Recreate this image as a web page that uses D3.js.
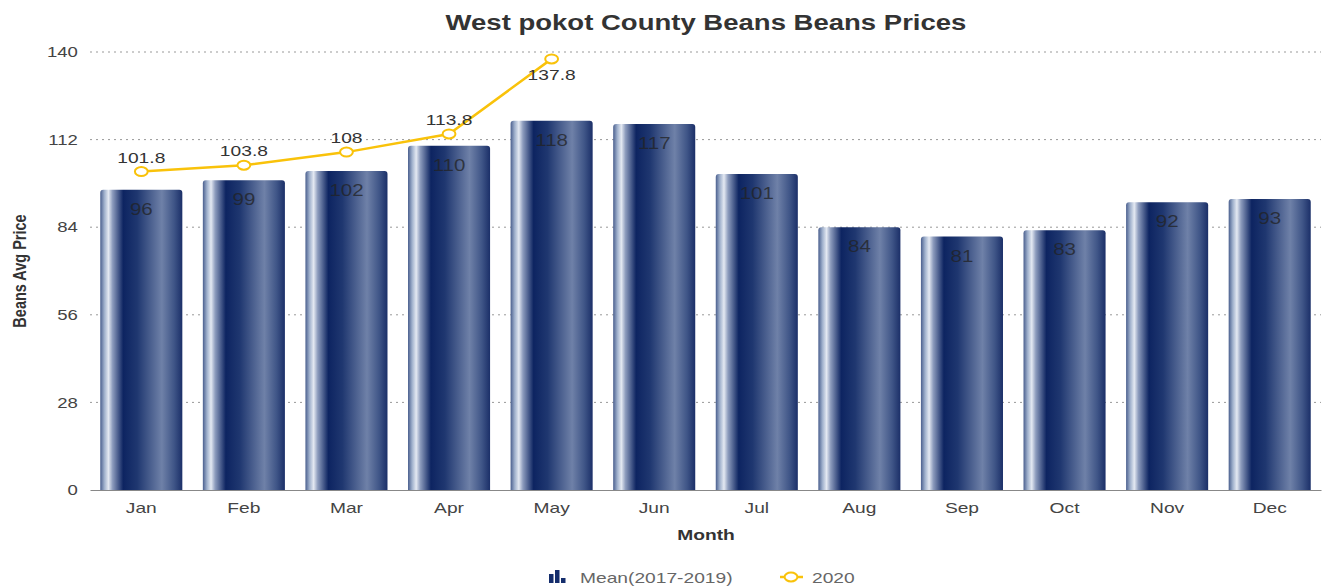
<!DOCTYPE html>
<html>
<head>
<meta charset="utf-8">
<script src="https://cdn.jsdelivr.net/npm/d3@7"></script>
<style>
  html, body { margin: 0; padding: 0; background: #fff; }
  svg { display: block; font-family: "Liberation Sans", Arial, sans-serif; }
</style>
</head>
<body>
<svg id="chart" width="1329" height="587"></svg>
<script>
// Monthly bean prices, West Pokot County
const months = ["Jan", "Feb", "Mar", "Apr", "May", "Jun", "Jul", "Aug", "Sep", "Oct", "Nov", "Dec"];
const meanValues = [96, 99, 102, 110, 118, 117, 101, 84, 81, 83, 92, 93];
const values2020 = [101.8, 103.8, 108, 113.8, 137.8];
const yTicks = [0, 28, 56, 84, 112, 140];
const seriesNames = ["Mean(2017-2019)", "2020"];

const svg = d3.select("#chart");
const margin = { left: 90, right: 8, top: 52, bottom: 97 };
const W = 1329, H = 587;
const SX = 1.28; // horizontal stretch of the lettering and markers

const x = d3.scaleBand().domain(months).range([margin.left, W - margin.right]).paddingInner(0.2).paddingOuter(0.1);
const y = d3.scaleLinear().domain([0, 140]).range([H - margin.bottom, margin.top]);

// place a text node at (px, py) with widened glyphs
function placeText(sel, px, py) {
  return sel.attr("x", 0).attr("y", 0).attr("transform", `translate(${px},${py}) scale(${SX},1)`);
}

// Cylinder-style shading for the bars
const defs = svg.append("defs");
const grad = defs.append("linearGradient").attr("id", "barGrad").attr("x1", "0%").attr("x2", "100%").attr("y1", "0%").attr("y2", "0%");
[
  [0, "#4a5f8e"], [0.05, "#9fb0cc"], [0.1, "#e4e9f2"], [0.15, "#8d9cbd"],
  [0.28, "#0d2461"], [0.45, "#1f3770"], [0.75, "#6f81a8"], [0.9, "#3f5587"], [1, "#1b2f68"]
].forEach(([o, c]) => grad.append("stop").attr("offset", o).attr("stop-color", c));

// Title
placeText(svg.append("text"), 706, 30).attr("text-anchor", "middle")
  .attr("font-size", 21.5).attr("font-weight", "bold").attr("fill", "#333")
  .text("West pokot County Beans Beans Prices");

// Grid lines
svg.append("g").selectAll("line").data(yTicks.filter(d => d > 0)).join("line")
  .attr("x1", margin.left).attr("x2", W - margin.right)
  .attr("y1", d => y(d)).attr("y2", d => y(d))
  .attr("stroke", "#999").attr("stroke-width", 1).attr("stroke-dasharray", "2,4");

// Y axis
const yAxis = svg.append("g").attr("transform", `translate(${margin.left},0)`)
  .call(d3.axisLeft(y).tickValues(yTicks).tickSize(0).tickPadding(9.5));
yAxis.select(".domain").remove();
yAxis.selectAll("text").attr("font-size", 14.5).attr("fill", "#444")
  .attr("font-family", "Liberation Sans, Arial, sans-serif")
  .attr("transform", `scale(${SX},1)`);

svg.append("text").attr("transform", `translate(19,${y(70)}) rotate(-90) scale(1,${SX})`)
  .attr("text-anchor", "middle").attr("font-size", 14.5).attr("font-weight", "bold").attr("fill", "#333")
  .attr("font-family", "Liberation Sans Narrow, Liberation Sans, Arial, sans-serif")
  .attr("dy", "0.35em")
  .text("Beans Avg Price");

// Bars
svg.append("g").selectAll("path").data(meanValues).join("path")
  .attr("d", (d, i) => {
    const x0 = x(months[i]), w = x.bandwidth(), y0 = y(d), y1 = y(0), r = 3;
    return `M${x0},${y1}V${y0 + r}Q${x0},${y0} ${x0 + r},${y0}H${x0 + w - r}Q${x0 + w},${y0} ${x0 + w},${y0 + r}V${y1}Z`;
  })
  .attr("fill", "url(#barGrad)");

// Bar value labels
svg.append("g").selectAll("text").data(meanValues).join("text")
  .each(function (d, i) {
    placeText(d3.select(this), x(months[i]) + x.bandwidth() / 2, y(d) + 25);
  })
  .attr("text-anchor", "middle").attr("font-size", 16).attr("fill", "#222").attr("fill-opacity", 0.75)
  .text(d => d);

// X axis
const xAxis = svg.append("g").attr("transform", `translate(0,${y(0)})`)
  .call(d3.axisBottom(x).tickSize(0).tickPadding(12));
xAxis.select(".domain").attr("stroke", "#888").attr("stroke-width", 1.2);
xAxis.selectAll("text").attr("font-size", 15).attr("fill", "#444")
  .attr("font-family", "Liberation Sans, Arial, sans-serif")
  .attr("transform", `scale(${SX},1)`);

placeText(svg.append("text"), 706, 540).attr("text-anchor", "middle")
  .attr("font-size", 15).attr("font-weight", "bold").attr("fill", "#333").text("Month");

// 2020 line
const cx = i => x(months[i]) + x.bandwidth() / 2;
const line = d3.line().x((d, i) => cx(i)).y(d => y(d));
svg.append("path").datum(values2020).attr("d", line)
  .attr("fill", "none").attr("stroke", "#f9c20a").attr("stroke-width", 2.5);
svg.append("g").selectAll("ellipse").data(values2020).join("ellipse")
  .attr("cx", (d, i) => cx(i)).attr("cy", d => y(d)).attr("rx", 5 * SX).attr("ry", 4.5)
  .attr("fill", "#fff").attr("stroke", "#f9c20a").attr("stroke-width", 2);
svg.append("g").selectAll("text").data(values2020).join("text")
  .each(function (d, i) {
    placeText(d3.select(this), cx(i), i === values2020.length - 1 ? y(d) + 21 : y(d) - 9);
  })
  .attr("text-anchor", "middle").attr("font-size", 15).attr("fill", "#333")
  .text(d => d);

// Legend
const lg = svg.append("g").attr("transform", "translate(0,577)");
// bar-chart icon
[[0, 9], [6, 13], [12, 5]].forEach(([dx, h]) => {
  lg.append("rect").attr("x", 549 + dx).attr("y", 6 - h).attr("width", 4.5).attr("height", h).attr("fill", "#142d6c");
});
placeText(lg.append("text"), 580, 5.5).attr("font-size", 15).attr("fill", "#666").text(seriesNames[0]);
lg.append("line").attr("x1", 780).attr("x2", 803).attr("y1", 0).attr("y2", 0).attr("stroke", "#f9c20a").attr("stroke-width", 2.5);
lg.append("ellipse").attr("cx", 791).attr("cy", 0).attr("rx", 5 * SX).attr("ry", 4.5).attr("fill", "#fff").attr("stroke", "#f9c20a").attr("stroke-width", 2);
placeText(lg.append("text"), 812, 5.5).attr("font-size", 15).attr("fill", "#666").text(seriesNames[1]);
</script>
</body>
</html>
